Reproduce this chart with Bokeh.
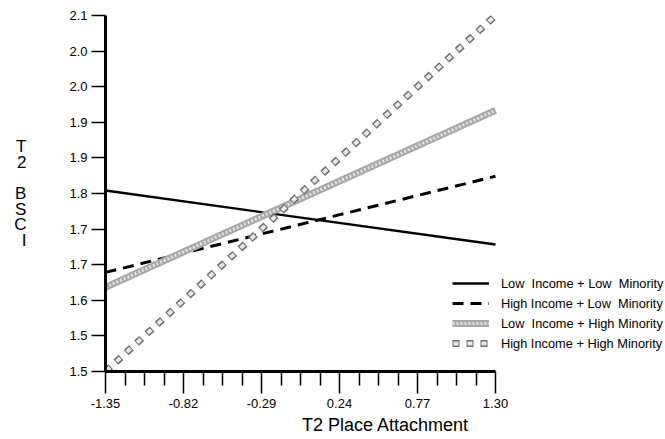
from bokeh.plotting import figure
from bokeh.models import (FixedTicker, Legend, LegendItem, LinearAxis, Range1d)
from bokeh.embed import file_html
from bokeh.resources import INLINE

# ---- data ----
x_ends = [-1.35, 1.30]
low_inc_low_min = [1.805, 1.714]
high_inc_low_min = [1.667, 1.829]
low_inc_high_min = [1.642, 1.940]
high_inc_high_min = [1.500, 2.100]

x_ticks = [-1.35, -0.82, -0.29, 0.24, 0.77, 1.30]
x_tick_labels = ["-1.35", "-0.82", "-0.29", "0.24", "0.77", "1.30"]
y_ticks = [1.50, 1.56, 1.62, 1.68, 1.74, 1.80, 1.86, 1.92, 1.98, 2.04, 2.10]
y_tick_labels = ["1.5", "1.5", "1.6", "1.7", "1.7", "1.8", "1.9", "1.9", "2.0", "2.0", "2.1"]

series_names = ["Low  Income + Low  Minority", "High Income + Low  Minority",
                "Low  Income + High Minority", "High Income + High Minority"]
y_title = "T\n2\n\nB\nS\nC\nI"
x_title = "T2 Place Attachment"

FONT = "Liberation Sans"
W, H = 665, 439
LEFT, AXIS_PX, TOP, BOTTOM = 105, 390, 15, 68
frame_w = W - LEFT
x_lo, x_hi = x_ticks[0], x_ticks[-1]
x_end = x_lo + (x_hi - x_lo) * frame_w / AXIS_PX

p = figure(width=W, height=H, output_backend="svg", toolbar_location=None,
           x_range=Range1d(x_lo, x_end), y_range=Range1d(y_ticks[0], y_ticks[-1]),
           min_border_left=LEFT, min_border_right=0, min_border_top=TOP,
           min_border_bottom=BOTTOM, x_axis_type=None, y_axis_type=None)
p.outline_line_color = None
p.xgrid.visible = False
p.ygrid.visible = False
p.background_fill_color = "white"
p.border_fill_color = "white"

# x axis
step = (x_ticks[1] - x_ticks[0]) / 4
minor = [x_ticks[0] + step * k for k in range(1, 4 * (len(x_ticks) - 1)) if k % 4 != 0]
xa = LinearAxis(ticker=FixedTicker(ticks=x_ticks, minor_ticks=minor), bounds=(x_lo, x_hi))
xa.major_label_overrides = {t: l for t, l in zip(x_ticks, x_tick_labels)}
xa.axis_label = x_title
xa.axis_label_text_font = FONT
xa.axis_label_text_font_size = "18px"
xa.axis_label_text_font_style = "normal"
xa.axis_label_text_color = "black"
xa.axis_label_standoff = 4
xa.axis_line_width = 3
xa.axis_line_color = "black"
xa.major_tick_out = 22
xa.major_tick_in = 0
xa.minor_tick_out = 14
xa.minor_tick_in = 0
xa.major_tick_line_width = 1.5
xa.minor_tick_line_width = 1.5
xa.major_label_standoff = 5
xa.major_label_text_font = FONT
xa.major_label_text_font_size = "13px"
xa.major_label_text_color = "black"
p.add_layout(xa, "below")

# y axis
ya = LinearAxis(ticker=FixedTicker(ticks=y_ticks, minor_ticks=[]))
ya.major_label_overrides = {t: l for t, l in zip(y_ticks, y_tick_labels)}
ya.axis_line_width = 3
ya.axis_line_color = "black"
ya.major_tick_out = 14
ya.major_tick_in = 0
ya.major_tick_line_width = 1.5
ya.major_label_standoff = 4
ya.major_label_text_font = FONT
ya.major_label_text_font_size = "13px"
ya.major_label_text_color = "black"
ya.axis_label = y_title
ya.axis_label_orientation = "horizontal"
ya.axis_label_text_font = FONT
ya.axis_label_text_font_size = "17px"
ya.axis_label_text_font_style = "normal"
ya.axis_label_text_color = "black"
ya.axis_label_text_line_height = 0.82
ya.axis_label_standoff = 40
p.add_layout(ya, "left")

# series
r1 = p.line(x_ends, low_inc_low_min, line_color="black", line_width=2.4)
r2 = p.line(x_ends, high_inc_low_min, line_color="black", line_width=3, line_dash="11 7")
r3a = p.line(x_ends, low_inc_high_min, line_color="#a8a8a8", line_width=7)
r3b = p.line(x_ends, low_inc_high_min, line_color="#e4e4e4", line_width=3, line_dash="2 2")
r4a = p.line(x_ends, high_inc_high_min, line_color="#6e6e6e", line_width=7, line_dash="7 7")
r4b = p.line(x_ends, high_inc_high_min, line_color="#e8e8e8", line_width=4, line_dash="5 9",
             line_dash_offset=13)

legend = Legend(items=[
    LegendItem(label=series_names[0], renderers=[r1]),
    LegendItem(label=series_names[1], renderers=[r2]),
    LegendItem(label=series_names[2], renderers=[r3a, r3b]),
    LegendItem(label=series_names[3], renderers=[r4a, r4b]),
], location=(347, 20))
legend.glyph_width = 37
legend.glyph_height = 16
legend.label_height = 16
legend.label_standoff = 12
legend.spacing = 4
legend.padding = 0
legend.margin = 0
legend.border_line_color = None
legend.background_fill_alpha = 0
legend.label_text_font = FONT
legend.label_text_font_size = "12.8px"
legend.label_text_color = "black"
p.add_layout(legend)

open("out.html", "w").write(file_html(p, INLINE))
